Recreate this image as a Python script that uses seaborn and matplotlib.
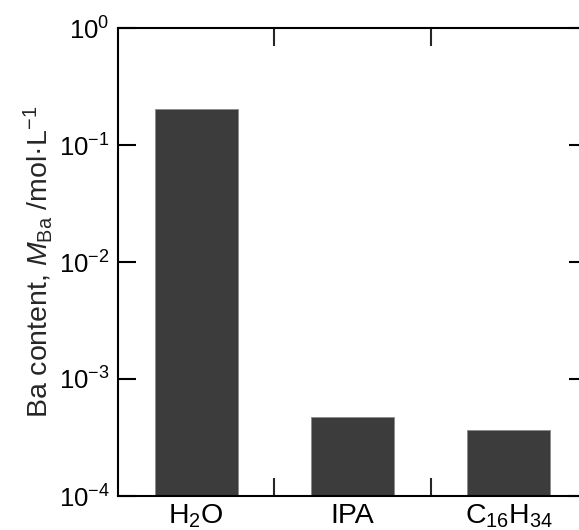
import matplotlib
matplotlib.use("Agg")
import matplotlib.pyplot as plt
import seaborn as sns
import pandas as pd
from matplotlib.ticker import FixedLocator, NullLocator

categories = ["H$_2$O", "IPA", "C$_{16}$H$_{34}$"]
values = [0.204, 4.7e-4, 3.65e-4]
ytick_values = [1e-4, 1e-3, 1e-2, 1e-1, 1e0]

sns.set_style("white")
plt.rcParams['font.family'] = ['Liberation Sans', 'DejaVu Sans']
plt.rcParams['mathtext.fontset'] = 'custom'
plt.rcParams['mathtext.rm'] = 'Liberation Sans'
plt.rcParams['mathtext.it'] = 'Liberation Sans:italic'
plt.rcParams['mathtext.bf'] = 'Liberation Sans:bold'
plt.rcParams['axes.unicode_minus'] = False

df = pd.DataFrame({"solvent": categories, "content": values})

W, H = 579, 530
fig = plt.figure(figsize=(W / 100, H / 100), dpi=100)
ax = fig.add_axes([118 / W, (H - 496) / H, 469 / W, 468 / H])

sns.barplot(data=df, x="solvent", y="content", order=categories, color="#3c3c3c",
            saturation=1, width=0.53, edgecolor="#8a8a8a", linewidth=0.6, ax=ax)
ax.set_yscale("log")
ax.set_ylim(1e-4, 1e0)
ax.set_xlim(-0.5, 2.5)
ax.yaxis.set_major_locator(FixedLocator(ytick_values))
ax.yaxis.set_minor_locator(NullLocator())
ax.xaxis.set_minor_locator(FixedLocator([0.5, 1.5]))

for s in ax.spines.values():
    s.set_linewidth(1.5)
    s.set_color("black")
    s.set_visible(True)

ax.tick_params(axis="y", which="major", direction="in", length=13, width=1.5,
               left=True, right=True, labelsize=18.5, pad=6, colors="black")
ax.tick_params(axis="x", which="major", length=0, labelsize=20.5, pad=5, colors="black")
ax.tick_params(axis="x", which="minor", direction="in", length=13, width=1.5,
               bottom=True, top=True)

ax.set_xlabel("")
ax.set_ylabel("Ba content, $M_{\\mathrm{Ba}}$ /mol·L$^{-1}$", fontsize=20.5, labelpad=3)

fig.savefig("out.png", dpi=100)
